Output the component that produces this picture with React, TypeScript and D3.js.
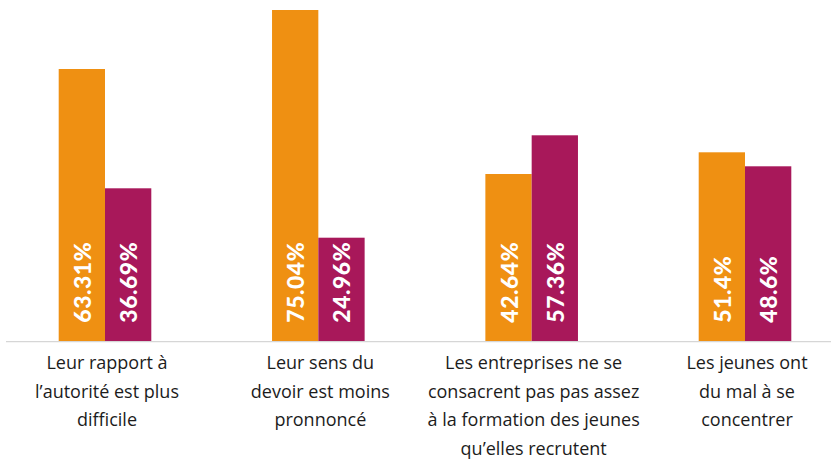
import React from "react";
import * as d3 from "d3";

const categories: string[][] = [
  ["Leur rapport à", "l\u2019autorité est plus", "difficile"],
  ["Leur sens du", "devoir est moins", "pronnoncé"],
  ["Les entreprises ne se", "consacrent pas pas assez", "à la formation des jeunes", "qu\u2019elles recrutent"],
  ["Les jeunes ont", "du mal à se", "concentrer"],
];
const seriesKeys = ["oui", "non"];
// bar heights (respondent counts)
const orangeValues = [272.7, 331.7, 167.7, 189.4];
const purpleValues = [153.4, 104.0, 206.4, 175.4];
// printed share labels
const orangeLabels = ["63.31%", "75.04%", "42.64%", "51.4%"];
const purpleLabels = ["36.69%", "24.96%", "57.36%", "48.6%"];

const W = 831;
const H = 461;
const COLORS = ["#EF9012", "#A8185A"];

export default function App() {
  const ids = categories.map((_, i) => String(i));
  const x = d3.scalePoint<string>().domain(ids).range([105, 745]);
  const inner = d3.scaleBand<string>().domain(seriesKeys).range([-46.3, 46.3]).padding(0);
  const maxV = d3.max([...orangeValues, ...purpleValues]) as number;
  const y = d3.scaleLinear().domain([0, maxV]).range([341.7, 10]);
  const series = [
    { values: orangeValues, labels: orangeLabels },
    { values: purpleValues, labels: purpleLabels },
  ];
  const bw = inner.bandwidth();
  return (
    <svg
      width={W}
      height={H}
      style={{ position: "absolute", left: 0, top: 0, background: "#fff" }}
    >
      {ids.map((id, i) => (
        <g key={id}>
          {series.map((s, si) => {
            const bx = (x(id) as number) + (inner(seriesKeys[si]) as number);
            const top = y(s.values[i]);
            const cx = bx + bw / 2;
            const ty = y(0) - 19;
            return (
              <g key={si}>
                <rect x={bx} y={top} width={bw} height={y(0) - top} fill={COLORS[si]} />
                <text
                  transform={`translate(${cx},${ty}) rotate(-90)`}
                  dominantBaseline="central"
                  textAnchor="start"
                  fill="#fff"
                  fontFamily="Lato"
                  fontWeight={900}
                  fontSize={23}
                  letterSpacing={0.5}
                >
                  {s.labels[i]}
                </text>
              </g>
            );
          })}
        </g>
      ))}
      <line x1={6} x2={W} y1={y(0)} y2={y(0)} stroke="#d6d6d6" strokeWidth={1.2} />
      {ids.map((id, i) => (
        <text
          key={"l" + id}
          x={(x(id) as number) + 2}
          textAnchor="middle"
          fontFamily="Open Sans"
          fontSize={18}
          fontWeight={500}
          fill="#1c1c1c"
        >
          {categories[i].map((line, li) => (
            <tspan key={li} x={(x(id) as number) + 2} y={369 + li * 28.5}>
              {line}
            </tspan>
          ))}
        </text>
      ))}
    </svg>
  );
}
